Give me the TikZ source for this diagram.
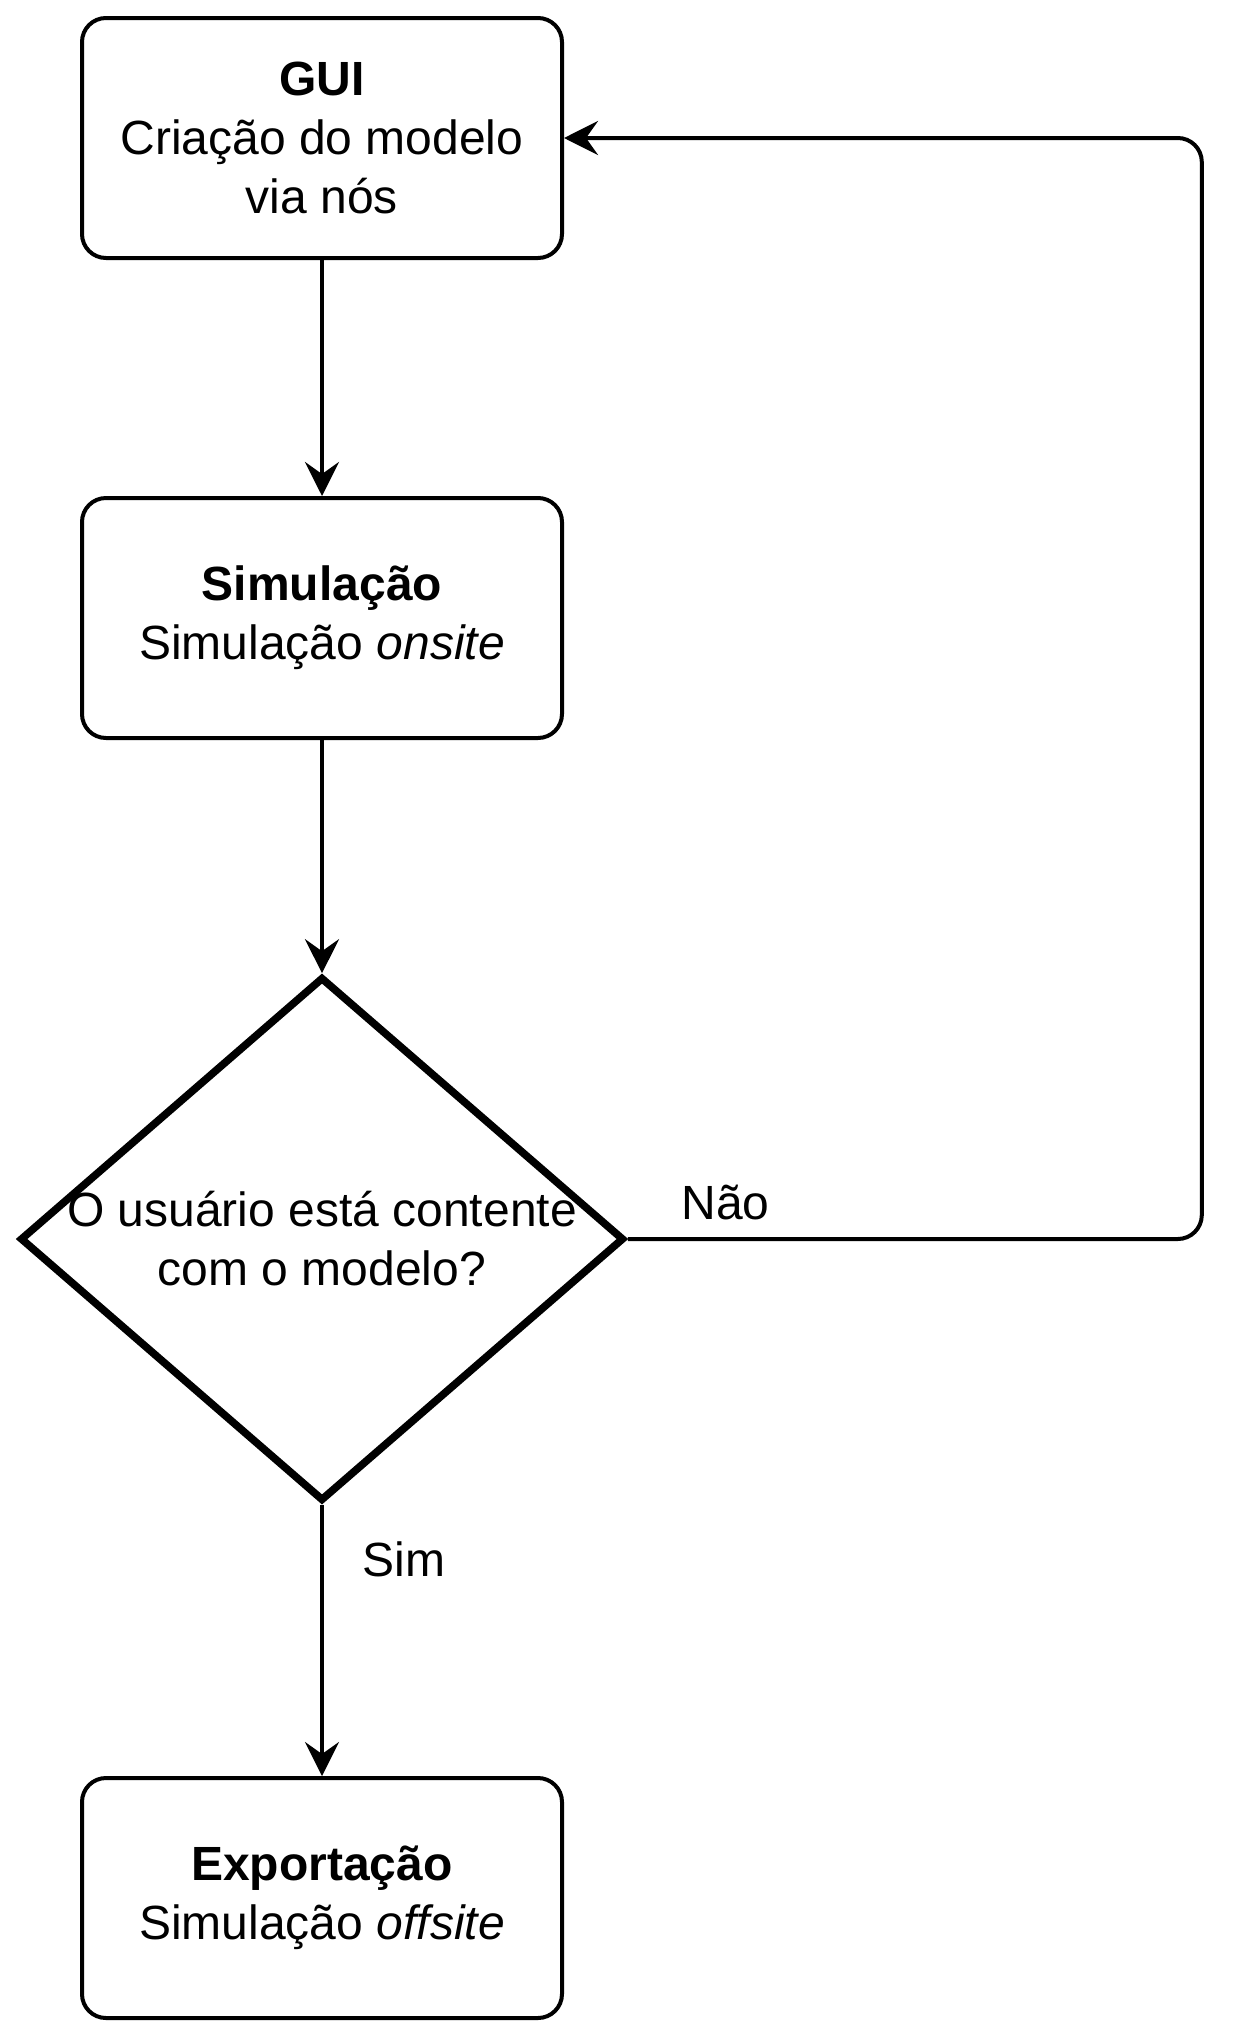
\documentclass[tikz,border=0pt]{standalone}
\usepackage{fontspec}
\setmainfont{Liberation Sans}
\usetikzlibrary{arrows.meta,positioning,shapes.geometric}
\tikzset{%
	process/.style  = {draw, rectangle, rounded corners=12pt, line width=2pt, minimum width=240pt, minimum height=120pt, align=center, font=\fontsize{24}{29.5}\selectfont},
	decision/.style = {draw, diamond, line width=3.8pt, minimum width=302pt, minimum height=262pt, inner sep=0pt}, % Question
	lbl/.style      = {font=\fontsize{24}{29.5}\selectfont}, % Text
	arrow/.style    = {line width=2pt, -{Stealth[length=17pt, width=17pt, inset=6pt]}},
}

\begin{document}
\begin{tikzpicture}[node distance=240pt]
	\useasboundingbox (0,0) rectangle (626pt,-1020pt);
	\node [process] (gui) at (161pt,-69pt) {\textbf{GUI}\\Criação do modelo\\via nós};
	\node [process] (sim) [below of=gui] {\textbf{Simulação}\\Simulação \textit{onsite}};
	\node [decision] (dec) [below of=sim, node distance=310.5pt] {};
	\node [lbl, align=center] (q) at (dec) {O usuário está contente\\com o modelo?};
	\node [process] (exp) [below of=dec, node distance=329.5pt] {\textbf{Exportação}\\Simulação \textit{offsite}};
	\coordinate [right=287pt of dec.east] (loop);
	
	\draw[arrow] (gui) -- (sim);
	\draw[arrow] (sim) -- (dec);
	\draw[arrow] (dec) -- node[lbl, pos=0.2, right=16pt] {Sim} (exp);
	\draw[arrow, rounded corners=12pt] (dec.east) -- node[lbl, pos=0.17, above=5pt] {Não} (loop) |- (gui.east);
\end{tikzpicture}
\end{document}
